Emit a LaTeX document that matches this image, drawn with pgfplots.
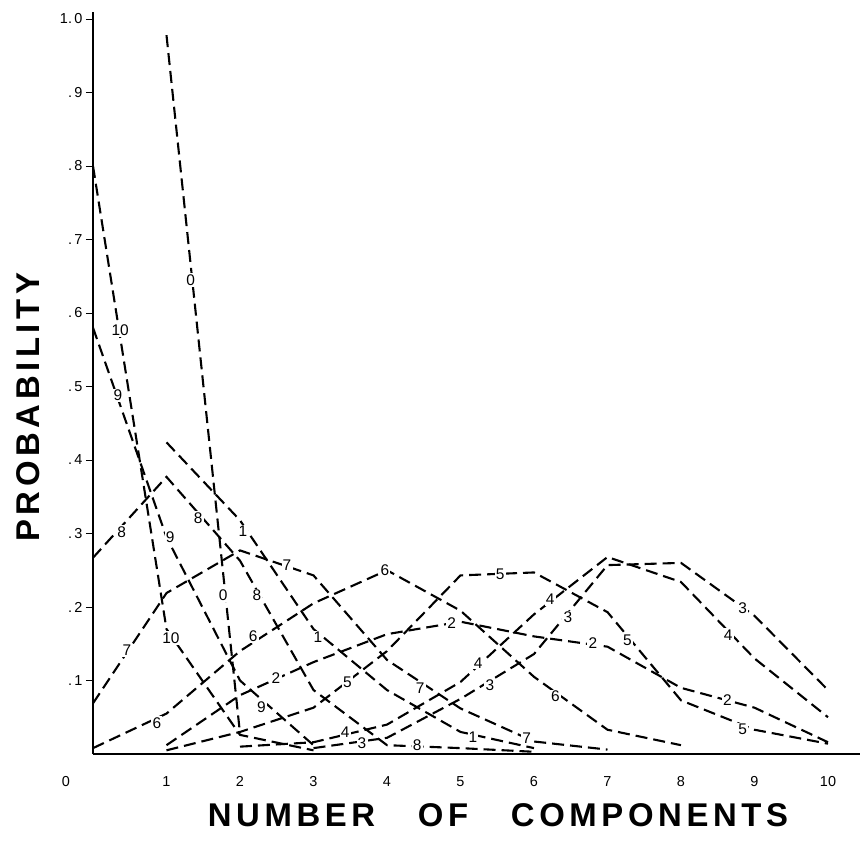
\documentclass[border=0pt]{standalone}
\usepackage{fontspec}
\setmainfont{Liberation Sans}
\newfontfamily\titlefont[LetterSpace=14]{Liberation Sans}
\usepackage{pgfplots}
\pgfplotsset{compat=1.18}
\begin{document}
\begin{tikzpicture}
\path[use as bounding box] (-93bp,-95bp) rectangle (767bp,754bp);
\begin{axis}[
  x=73.5bp, y=735bp,
  xmin=0, xmax=10.43, ymin=0, ymax=1.0095,
  axis x line=bottom, axis y line=left,
  axis line style={-, line width=2.6bp},
  clip=false,
  xtick={1,...,10},
  ytick={0.1,0.2,0.3,0.4,0.5,0.6,0.7,0.8,0.9,1.0},
  yticklabels={.\,1,.\,2,.\,3,.\,4,.\,5,.\,6,.\,7,.\,8,.\,9,1.\,0},
  /pgf/number format/assume math mode=true,
  tick align=outside,
  major tick length=7bp,
  xtick style={draw=none},
  ytick style={line width=0.8bp, black},
  tick label style={font=\fontsize{14.5}{14.5}\selectfont},
  xticklabel style={yshift=-12bp},
  extra x ticks={0},
  extra x tick labels={0},
  extra x tick style={tick style={draw=none}, xticklabel style={xshift=-27bp}},
  crv/.style={black, line width=2.1bp, dash pattern=on 12bp off 6bp, mark=none},
]
% curve 0
\addplot[crv] coordinates {(1,0.978) (2,0.028)};
% curve 1
\addplot[crv] coordinates {(1,0.424) (2,0.318) (3,0.17) (4,0.087) (5,0.03) (6,0.008)};
% curve 2
\addplot[crv] coordinates {(1,0.012) (2,0.08) (3,0.125) (4,0.163) (5,0.18) (6,0.16) (7,0.146) (8,0.09) (9,0.063) (10,0.016)};
% curve 3
\addplot[crv] coordinates {(3,0.008) (4,0.022) (5,0.075) (6,0.136) (7,0.257) (8,0.26) (9,0.188) (10,0.087)};
% curve 4
\addplot[crv] coordinates {(2,0.01) (3,0.016) (4,0.04) (5,0.098) (6,0.19) (7,0.268) (8,0.234) (9,0.13) (10,0.05)};
% curve 5
\addplot[crv] coordinates {(1,0.005) (2,0.03) (3,0.063) (4,0.14) (5,0.243) (6,0.247) (7,0.193) (8,0.073) (9,0.033) (10,0.014)};
% curve 6
\addplot[crv] coordinates {(0,0.008) (1,0.055) (2,0.14) (3,0.205) (4,0.25) (5,0.195) (6,0.105) (7,0.033) (8,0.012)};
% curve 7
\addplot[crv] coordinates {(0,0.069) (1,0.219) (2,0.277) (3,0.243) (4,0.128) (5,0.062) (6,0.017) (7,0.006)};
% curve 8
\addplot[crv] coordinates {(0,0.267) (1,0.377) (2,0.263) (3,0.087) (4,0.012) (5,0.008) (6,0.003)};
% curve 9
\addplot[crv] coordinates {(0,0.58) (1,0.295) (2,0.10) (3,0.012)};
% curve 10
\addplot[crv] coordinates {(0,0.80) (1,0.17) (2,0.026) (3,0.005)};

\begin{scope}[every node/.style={fill=white, inner sep=1.2bp, font=\fontsize{15.5}{15.5}\selectfont}]
\node at (axis cs:1.33,0.645) {0};
\node at (axis cs:1.77,0.216) {0};
\node at (axis cs:2.04,0.303) {1};
\node at (axis cs:3.06,0.159) {1};
\node at (axis cs:5.17,0.023) {1};
\node at (axis cs:2.49,0.103) {2};
\node at (axis cs:4.88,0.178) {2};
\node at (axis cs:6.80,0.151) {2};
\node at (axis cs:8.63,0.073) {2};
\node at (axis cs:3.66,0.015) {3};
\node at (axis cs:5.40,0.094) {3};
\node at (axis cs:6.46,0.186) {3};
\node at (axis cs:8.84,0.199) {3};
\node at (axis cs:3.43,0.029) {4};
\node at (axis cs:5.24,0.124) {4};
\node at (axis cs:6.22,0.210) {4};
\node at (axis cs:8.64,0.162) {4};
\node at (axis cs:3.46,0.097) {5};
\node at (axis cs:5.54,0.245) {5};
\node at (axis cs:7.27,0.155) {5};
\node at (axis cs:8.84,0.033) {5};
\node at (axis cs:0.87,0.042) {6};
\node at (axis cs:2.18,0.160) {6};
\node at (axis cs:3.97,0.250) {6};
\node at (axis cs:6.29,0.078) {6};
\node at (axis cs:0.46,0.141) {7};
\node at (axis cs:2.64,0.257) {7};
\node at (axis cs:4.45,0.090) {7};
\node at (axis cs:5.90,0.022) {7};
\node at (axis cs:0.39,0.302) {8};
\node at (axis cs:1.43,0.321) {8};
\node at (axis cs:2.23,0.216) {8};
\node at (axis cs:4.41,0.012) {8};
\node at (axis cs:0.34,0.488) {9};
\node at (axis cs:1.05,0.295) {9};
\node at (axis cs:2.29,0.064) {9};
\node at (axis cs:0.37,0.577) {10};
\node at (axis cs:1.06,0.158) {10};
\end{scope}

\node[rotate=90, font=\fontsize{33}{33}\selectfont\titlefont\bfseries] at (axis cs:-0.884,0.472) {PROBABILITY};
\node[font=\fontsize{33}{33}\selectfont\titlefont\bfseries] at (axis cs:5.51,-0.083) {NUMBER\hspace{1.3em}OF\hspace{1.3em}COMPONENTS};
\end{axis}
\end{tikzpicture}
\end{document}
